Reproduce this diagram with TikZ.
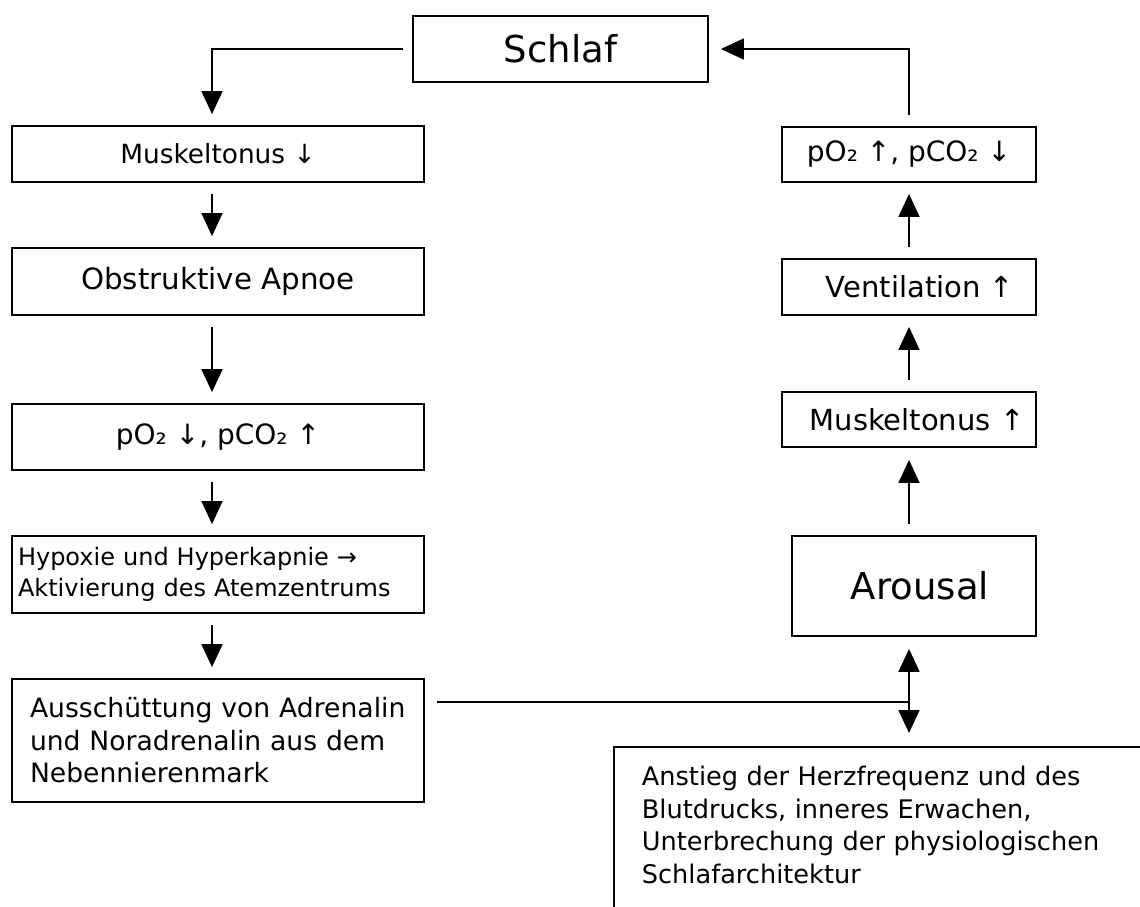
\documentclass[tikz,border=0pt]{standalone}
\usepackage{fontspec}
\setmainfont{DejaVu Sans}
\usetikzlibrary{arrows.meta}
\tikzset{
  box/.style={draw, line width=1.8pt, rectangle, inner sep=0pt, align=center},
  tip/.tip={Triangle[length=23pt,width=21pt]},
  arr/.style={line width=1.7pt, -tip, shorten >=11pt, shorten <=11pt},
  darr/.style={line width=1.7pt, tip-tip, shorten >=13pt, shorten <=12pt},
  plain/.style={line width=1.7pt}
}
\begin{document}
\begin{tikzpicture}[x=1pt,y=-1pt]
\useasboundingbox (0,0) rectangle (1140,906);

% top
\node[box, minimum width=295pt, minimum height=66pt, font=\fontsize{37}{45}\selectfont] (schlaf) at (560.5,49) {Schlaf};

% left column
\node[box, minimum width=412pt, minimum height=56pt, font=\fontsize{26.4}{32}\selectfont] (mt1) at (218,154) {Muskeltonus ↓};
\node[box, minimum width=412pt, minimum height=67pt, font=\fontsize{29.3}{35}\selectfont] (oa) at (218,281.5) {Obstruktive Apnoe};
\node[box, minimum width=412pt, minimum height=66pt, font=\fontsize{28}{34}\selectfont] (po1) at (218,437) {pO₂ ↓, pCO₂ ↑};
\node[box, minimum width=412pt, minimum height=77pt, align=left, text width=400pt, inner xsep=6pt, font=\fontsize{24}{31.5}\selectfont] (hyp) at (218,574.5) {Hypoxie und Hyperkapnie →\\Aktivierung des Atemzentrums};
\node[box, minimum width=412pt, minimum height=123pt, align=left, text width=376pt, inner xsep=18pt, font=\fontsize{26.6}{32.5}\selectfont] (aus) at (218,740.5) {Ausschüttung von Adrenalin\\und Noradrenalin aus dem\\Nebennierenmark};

% right column
\node[box, minimum width=254pt, minimum height=55pt, font=\fontsize{28}{34}\selectfont] (po2) at (909,154.5) {pO₂ ↑, pCO₂ ↓};
\node[box, minimum width=254pt, minimum height=56pt, font=\fontsize{29}{35}\selectfont] (vent) at (909,287) {\hspace*{22pt}Ventilation ↑};
\node[box, minimum width=254pt, minimum height=55pt, font=\fontsize{29}{35}\selectfont] (mt2) at (909,419.5) {\hspace*{16pt}Muskeltonus ↑};
\node[box, minimum width=244pt, minimum height=100pt, font=\fontsize{37}{45}\selectfont] (arousal) at (914,586) {\hspace*{12pt}Arousal};

% bottom right (open) box
\node[box, anchor=north west, align=left, text width=520pt, inner xsep=28pt, inner ysep=20pt, text height=19pt, text depth=130pt, font=\fontsize{25.6}{32.5}\selectfont] (effekt) at (613,746) {Anstieg der Herzfrequenz und des\\Blutdrucks, inneres Erwachen,\\Unterbrechung der physiologischen\\Schlafarchitektur};

% connectors
\draw[arr, shorten <=9pt] (schlaf.west) -| ([xshift=-6pt]mt1.north);
\draw[arr] ([xshift=-6pt]mt1.south) -- ([xshift=-6pt]oa.north);
\draw[arr] ([xshift=-6pt]oa.south) -- ([xshift=-6pt]po1.north);
\draw[arr] ([xshift=-6pt]po1.south) -- ([xshift=-6pt]hyp.north);
\draw[arr] ([xshift=-6pt]hyp.south) -- ([xshift=-6pt]aus.north);

\draw[arr, shorten >=12pt] (arousal.north -| mt2.south) -- (mt2.south);
\draw[arr] (mt2.north) -- (vent.south);
\draw[arr] (vent.north) -- (po2.south);
\draw[arr, shorten >=12pt] (po2.north) |- (schlaf.east);

\coordinate (junction) at (909,702);
\draw[darr] (arousal.south -| junction) -- (effekt.north -| junction);
\draw[plain, shorten <=12pt] (aus.east |- junction) -- (junction);
\end{tikzpicture}
\end{document}
